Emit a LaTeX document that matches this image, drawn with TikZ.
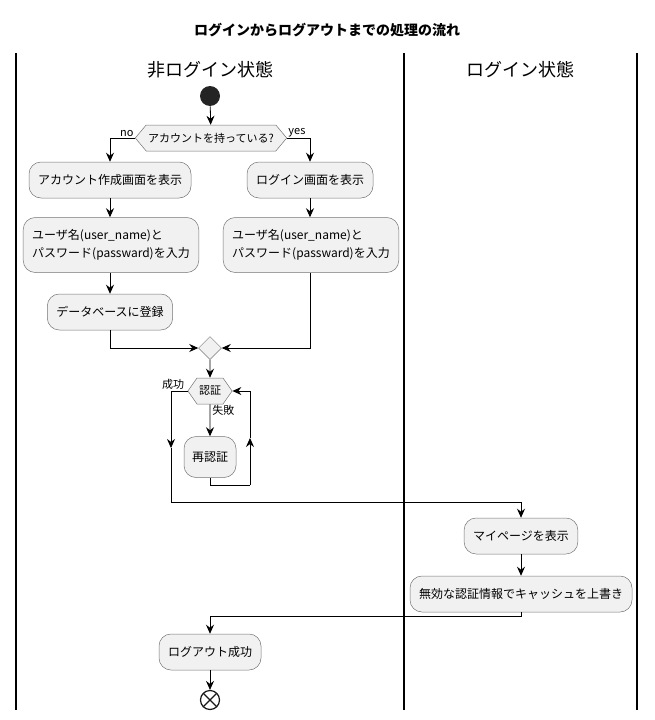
\documentclass[tikz,border=0pt]{standalone}
\usepackage{fontspec}
\setmainfont{Noto Sans CJK JP}
\usepackage{tikz}
\usetikzlibrary{shapes.geometric,shapes.symbols}
\usetikzlibrary{arrows.meta}
\usetikzlibrary{positioning}
\definecolor{boxfill}{HTML}{F1F1F1}
\definecolor{boxline}{HTML}{181818}
\tikzset{
% Define standard arrow tip
>={Stealth[length=9pt,width=8pt,inset=3pt]}
}

\begin{document}
\begin{tikzpicture}[x=1pt, y=-1pt, line width=0.8pt,
    action/.style={rectangle, rounded corners=12pt, draw=boxline!60, line width=0.5pt,
      fill=boxfill, font=\fontsize{12}{18}\selectfont, align=left,
      minimum height=36pt, inner xsep=9pt},
    branch/.style={signal, signal to=east and west, signal pointer angle=100,
      draw=boxline!60, line width=0.5pt, fill=boxfill, font=\fontsize{11}{13}\selectfont,
      minimum height=26pt, inner xsep=2pt},
    guard/.style={font=\fontsize{11}{13}\selectfont, inner sep=1pt},
    lane/.style={line width=2pt}]
  \useasboundingbox (0,0) rectangle (655,720);

  % title and swimlanes
  \node[font=\fontsize{14}{16}\selectfont\bfseries] (title) at (327,30) {ログインからログアウトまでの処理の流れ};
  \draw[lane] (16,53) -- (16,710);
  \draw[lane] (404,53) -- (404,710);
  \draw[lane] (637,53) -- (637,710);
  \node[font=\fontsize{18}{20}\selectfont] (lane1) at (210,70) {非ログイン状態};
  \node[font=\fontsize{18}{20}\selectfont] (lane2) at (520,70) {ログイン状態};

  % activities
  \node[circle, fill=boxline!95, minimum size=20pt, inner sep=0] (start) at (210,96) {};
  \node[branch] (account) at (211,138) {アカウントを持っている?};
  \node[action] (register) at (110,180) {アカウント作成画面を表示};
  \node[action] (login) at (310,180) {ログイン画面を表示};
  \node[action, minimum height=55pt, inner ysep=6pt] (inputL) at (111,245) {ユーザ名(user\_name)と\\パスワード(passward)を入力};
  \node[action, minimum height=55pt, inner ysep=6pt] (inputR) at (311,245) {ユーザ名(user\_name)と\\パスワード(passward)を入力};
  \node[action] (database) at (110,312) {データベースに登録};
  \node[diamond, draw=boxline!60, line width=0.5pt, fill=boxfill,
    minimum size=23pt, inner sep=0] (merge) at (210,348) {};
  \node[branch, signal pointer angle=110] (auth) at (210,391) {認証};
  \node[action, minimum height=41pt, inner xsep=8pt] (reauth) at (210,457) {再認証};
  \node[action] (mypage) at (521,536) {マイページを表示};
  \node[action] (cache) at (521,594) {無効な認証情報でキャッシュを上書き};
  \node[action] (logout) at (210,652) {ログアウト成功};
  \node[circle, draw=boxline, line width=1.2pt, minimum size=19pt, inner sep=0,
    path picture={\draw[line width=1.2pt] (path picture bounding box.north west) -- (path picture bounding box.south east)
      (path picture bounding box.north east) -- (path picture bounding box.south west);}] (end) at (210,700) {};

  % helper points
  \coordinate (loopB) at (250,485);
  \coordinate (loopM) at (250,438);
  \coordinate (okM) at (171,448);
  \coordinate (okB) at (521,502);
  \coordinate (outB) at (210,616);

  % connectors
  \draw[->] (start) -- (account);
  \draw[->] (account.west) -| (register);
  \draw[->] (account.east) -| (login);
  \node[guard, anchor=south east] (no) at (account.west) {no};
  \node[guard, anchor=south west] (yes) at (account.east) {yes};
  \draw[->] (register) -- (register |- inputL.north);
  \draw[->] (login) -- (login |- inputR.north);
  \draw[->] (register |- inputL.south) -- (database);
  \draw[->] (database.south) |- (merge.west);
  \draw[->] (login |- inputR.south) |- (merge.east);
  \draw[->] (merge) -- (auth);
  \draw[->] (auth) -- (reauth);
  \node[guard, anchor=north west] (fail) at ([xshift=1pt]auth.south) {失敗};
  \node[guard, anchor=south east] (success) at ([xshift=-2pt]auth.west) {成功};
  \draw (reauth.south) |- (loopB);
  \draw[->] (loopB) -- (loopM);
  \draw[->] (loopM) |- (auth.east);
  \draw[->] (auth.west) -| (okM);
  \draw[->] (okM) |- (okB) -- (mypage);
  \draw[->] (mypage) -- (cache);
  \draw[->] (cache.south) |- (outB) -- (logout);
  \draw[->] (logout) -- (end);
\end{tikzpicture}
\end{document}
